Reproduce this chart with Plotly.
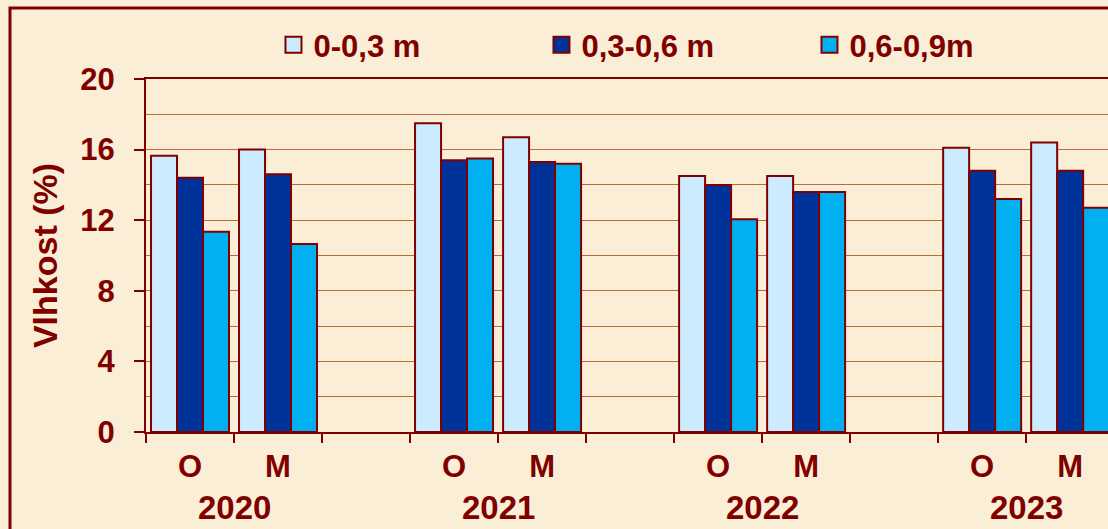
import plotly.graph_objects as go

# ---- data ----
years = ["2020", "2021", "2022", "2023"]
seasons = ["O", "M"]
series_names = ["0-0,3 m", "0,3-0,6 m", "0,6-0,9m"]
v_00_03 = [15.65, 16.0, 17.5, 16.7, 14.5, 14.5, 16.1, 16.4]
v_03_06 = [14.4, 14.6, 15.4, 15.3, 14.0, 13.6, 14.8, 14.8]
v_06_09 = [11.35, 10.65, 15.5, 15.2, 12.05, 13.6, 13.2, 12.7]
y_ticks = [0, 4, 8, 12, 16, 20]

series_values = [v_00_03, v_03_06, v_06_09]
colors = ["#CCEBFF", "#003399", "#00B0F0"]

MAROON = "#800000"
GRID = "#BE6A40"
BG = "#FBEED6"
FONT = "Liberation Sans"

# category positions: each year occupies 3 slots (O, M, gap)
xpos = []
xlab = []
for yi, yr in enumerate(years):
    for si, s in enumerate(seasons):
        xpos.append(yi * 3 + si)
        xlab.append(s)

fig = go.Figure()
for name, vals, col in zip(series_names, series_values, colors):
    fig.add_trace(go.Bar(
        x=xpos, y=vals, name=name, showlegend=False,
        marker=dict(color=col, line=dict(color=MAROON, width=2)),
        xaxis="x", yaxis="y",
    ))
# legend entries with larger square swatches
for name, col in zip(series_names, colors):
    fig.add_trace(go.Scatter(
        x=[None], y=[None], name=name, mode="markers",
        marker=dict(symbol="square", size=16, color=col, line=dict(color=MAROON, width=2)),
        xaxis="x", yaxis="y",
    ))

xr = [-0.5, 10.43]
year_centers = [yi * 3 + 0.5 for yi in range(len(years))]

annotations = []
for yc, yr in zip(year_centers, years):
    annotations.append(dict(
        x=yc, y=-0.2125, xref="x", yref="paper", text=yr, showarrow=False,
        yanchor="middle", xanchor="center",
        font=dict(family=FONT, size=33, color=MAROON, weight="bold"),
    ))

fig.update_layout(
    width=1108, height=529,
    margin=dict(l=146, r=0, t=79, b=97),
    paper_bgcolor=BG, plot_bgcolor=BG,
    barmode="group", bargap=0.114, bargroupgap=0,
    showlegend=True,
    legend=dict(
        orientation="h", x=0.1325, xanchor="left", y=1.096, yanchor="middle",
        bgcolor="rgba(0,0,0,0)",
        font=dict(family=FONT, size=31, color=MAROON, weight="bold"),
        entrywidthmode="pixels", entrywidth=223,
    ),
    xaxis=dict(
        range=xr, tickmode="array", tickvals=xpos, ticktext=xlab,
        ticks="", showgrid=False, zeroline=False,
        showline=True, linecolor=MAROON, linewidth=2, mirror=True,
        tickfont=dict(family=FONT, size=31, color=MAROON, weight="bold"),
        ticklabelstandoff=6,
    ),
    xaxis2=dict(
        range=xr, overlaying="x", anchor="y", side="bottom",
        tickmode="linear", tick0=0.5, dtick=1,
        ticks="outside", ticklen=10, tickwidth=2, tickcolor=MAROON,
        showticklabels=False, showgrid=False, zeroline=False, showline=False,
    ),
    yaxis=dict(
        range=[0, 20], tickmode="array", tickvals=y_ticks,
        ticks="outside", ticklen=10, tickwidth=2, tickcolor=MAROON,
        showline=True, linecolor=MAROON, linewidth=2,
        showgrid=True, gridcolor=GRID, gridwidth=1.3, zeroline=False,
        minor=dict(dtick=2, tick0=0, showgrid=True, gridcolor=GRID, gridwidth=1.3, ticks=""),
        tickfont=dict(family=FONT, size=31, color=MAROON, weight="bold"),
        ticklabelstandoff=13,
        title=dict(text="Vlhkost (%)", standoff=12,
                   font=dict(family=FONT, size=34, color=MAROON, weight="bold")),
    ),
    annotations=annotations,
    shapes=[dict(
        type="rect", xref="paper", yref="paper",
        x0=(10 - 146) / 962, x1=1.3, y0=-0.6, y1=(432 - 8) / 353,
        line=dict(color=MAROON, width=3), fillcolor="rgba(0,0,0,0)", layer="below",
    )],
)

# invisible helper so the tick-overlay axis is rendered
fig.add_trace(go.Scatter(x=xpos, y=[0] * len(xpos), xaxis="x2", yaxis="y",
                         mode="markers", marker=dict(opacity=0), showlegend=False,
                         hoverinfo="skip"))

fig.write_html("out.html")
